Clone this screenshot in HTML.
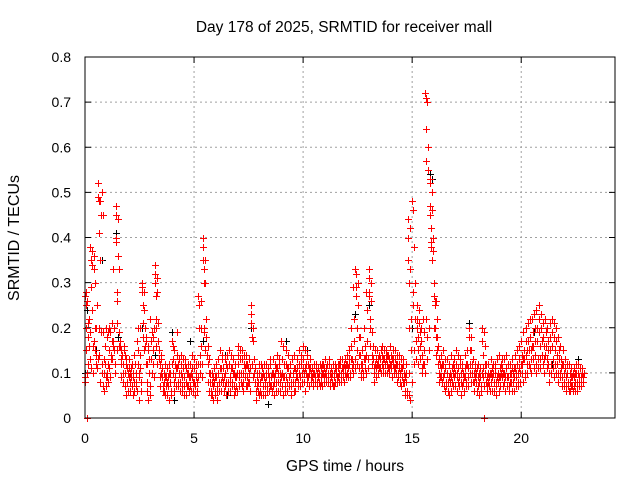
<!DOCTYPE html>
<html><head><meta charset="utf-8"><style>
body{margin:0;background:#fff}
svg{display:block;font-family:"Liberation Sans",sans-serif}
</style></head><body>
<svg id="chart" width="640" height="480" viewBox="0 0 640 480">
<rect width="640" height="480" fill="#fff"/>
<text x="344" y="32" font-size="15.5" text-anchor="middle" fill="#000">Day 178 of 2025, SRMTID for receiver mall</text>
<text x="345" y="471" font-size="15.5" text-anchor="middle" fill="#000">GPS time / hours</text>
<text transform="translate(19,238) rotate(-90)" font-size="16" text-anchor="middle" fill="#000">SRMTID / TECUs</text>
<g id="grid"></g>
<g id="ticks"></g>
<g id="blackPts"></g>
<g id="redPts"></g>
<rect x="85" y="57" width="530" height="361" fill="none" stroke="#000" stroke-width="1"/>
</svg>
<script>
const xTicks=[0,5,10,15,20];
const yTicks=[0,0.1,0.2,0.3,0.4,0.5,0.6,0.7,0.8];
const yTickLabels=["0","0.1","0.2","0.3","0.4","0.5","0.6","0.7","0.8"];
const redHours=[0.0,0.2,0.4,0.6,0.8,1.0,1.2,1.4,1.6,1.8,2.0,2.2,2.4,2.6,2.8,3.0,3.2,3.4,3.6,3.8,4.0,4.2,4.4,4.6,4.8,5.0,5.2,5.4,5.6,5.8,6.0,6.2,6.4,6.6,6.8,7.0,7.2,7.4,7.6,7.8,8.0,8.2,8.4,8.6,8.8,9.0,9.2,9.4,9.6,9.8,10.0,10.2,10.4,10.6,10.8,11.0,11.2,11.4,11.6,11.8,12.0,12.2,12.4,12.6,12.8,13.0,13.2,13.4,13.6,13.8,14.0,14.2,14.4,14.6,14.8,15.0,15.2,15.4,15.6,15.8,16.0,16.2,16.4,16.6,16.8,17.0,17.2,17.4,17.6,17.8,18.0,18.2,18.4,18.6,18.8,19.0,19.2,19.4,19.6,19.8,20.0,20.2,20.4,20.6,20.8,21.0,21.2,21.4,21.6,21.8,22.0,22.2,22.4,22.6,22.8];
const redValues=[
[.08,.09,.27,.2,.25,.15,.28,.1,0],[.22,.38,.19,.13,.35,.29,.11],[.33,.36,.17,.2,.15,.3,.12],[.52,.49,.48,.41,.2,.14,.08,.35],[.5,.45,.07,.19,.1,.13,.06],
[.18,.1,.09,.19,.08,.12,.2],[.14,.13,.21,.17,.16,.33],[.47,.45,.4,.39,.28,.26,.21,.15],[.17,.16,.13,.12,.09,.15,.14],[.15,.14,.1,.07,.05,.12],
[.09,.13,.11,.08,.06,.1],[.1,.09,.06,.08,.14,.12],[.17,.2,.15,.12,.09,.04,.1],[.3,.29,.28,.25,.21,.18,.15],[.18,.17,.12,.08,.06,.15,.04],
[.22,.13,.17,.1,.19],[.34,.32,.3,.27,.22,.2,.16,.12],[.15,.12,.09,.07,.14,.1],[.1,.08,.06,.05,.12,.09],[.07,.09,.12,.1,.04,.08],
[.17,.16,.13,.1,.06,.08],[.19,.14,.11,.08,.07,.12],[.12,.1,.07,.06,.09,.13],[.13,.11,.08,.05,.07,.1],[.12,.09,.07,.06,.1,.14],
[.11,.08,.07,.05,.09,.12],[.27,.25,.2,.14,.12,.1],[.4,.38,.35,.33,.3,.2,.19,.15],[.14,.16,.12,.08,.06,.1],[.1,.08,.05,.04,.07,.09],
[.12,.09,.07,.06,.04,.1],[.15,.11,.08,.06,.09,.13],[.13,.1,.07,.05,.08,.12],[.15,.12,.09,.06,.08,.11],[.13,.1,.07,.05,.09,.06],
[.16,.14,.12,.09,.07,.1],[.15,.13,.1,.08,.06,.12],[.14,.12,.09,.07,.08,.11],[.25,.23,.21,.18,.12,.09],[.11,.08,.06,.04,.09,.07],
[.1,.08,.06,.05,.09,.12],[.12,.09,.07,.05,.08,.1],[.11,.08,.06,.09,.07,.13],[.13,.1,.07,.05,.09,.08],[.14,.11,.08,.06,.1,.12],
[.17,.13,.1,.07,.05,.09],[.15,.12,.09,.06,.08,.11],[.12,.1,.08,.05,.07,.13],[.14,.11,.08,.06,.09,.1],[.15,.12,.1,.07,.09,.13],
[.16,.13,.1,.08,.06,.11],[.14,.12,.09,.07,.1,.11],[.11,.09,.07,.08,.1,.12],[.12,.1,.08,.07,.09,.11],[.11,.09,.08,.1,.12,.07],
[.13,.1,.08,.09,.11,.12],[.12,.1,.08,.07,.09,.11],[.1,.09,.07,.08,.11,.12],[.11,.09,.08,.1,.12,.13],[.13,.11,.09,.1,.08,.12],
[.14,.12,.1,.09,.11,.13],[.2,.16,.13,.11,.1,.12],[.33,.32,.29,.27,.2,.15,.12],[.18,.14,.12,.1,.09,.11],[.2,.16,.13,.11,.1,.14],
[.33,.31,.28,.27,.22,.2,.16],[.16,.13,.11,.1,.08,.12],[.15,.13,.12,.1,.14,.11],[.16,.14,.12,.11,.13,.1],[.15,.13,.12,.1,.14,.11],
[.16,.14,.12,.11,.13,.09],[.15,.13,.11,.1,.12,.08],[.14,.12,.1,.08,.11,.07],[.13,.1,.08,.06,.09,.05],[.44,.4,.35,.3,.2,.1,.05,.04],
[.48,.46,.28,.25,.15,.12],[.25,.22,.2,.18,.15,.12],[.2,.17,.14,.11,.1,.12],[.72,.71,.64,.57,.22,.18,.13],[.53,.52,.47,.45,.42,.39,.38,.35],
[.3,.27,.26,.25,.2,.18,.14],[.16,.13,.1,.08,.12,.09],[.15,.12,.09,.07,.1,.06],[.13,.1,.08,.06,.09,.05],[.14,.11,.08,.07,.1,.12],
[.15,.12,.09,.06,.1,.08],[.13,.1,.08,.05,.07,.11],[.14,.11,.09,.07,.12,.08],[.2,.18,.15,.12,.1,.08],[.13,.1,.08,.06,.09,.11],
[.12,.09,.07,.05,.08,.1],[.2,.17,.14,.11,.09,.07,0],[.12,.09,.07,.06,.1,.08],[.13,.1,.08,.06,.09,.11],[.12,.1,.08,.05,.07,.09],
[.14,.11,.09,.07,.1,.12],[.13,.1,.08,.06,.09,.11],[.12,.09,.07,.06,.08,.1],[.13,.1,.08,.06,.09,.11],[.15,.12,.1,.08,.07,.11],
[.17,.14,.12,.1,.08,.13],[.2,.17,.14,.12,.1,.15],[.22,.18,.15,.13,.1,.16],[.23,.2,.17,.14,.12,.1],[.25,.22,.19,.16,.13,.11],
[.21,.18,.16,.13,.1,.14],[.2,.17,.15,.12,.1,.08],[.22,.19,.16,.13,.11,.09],[.2,.17,.14,.12,.1,.08],[.16,.13,.11,.09,.07,.12],
[.13,.11,.09,.07,.06,.1],[.12,.1,.08,.06,.09,.07],[.11,.09,.07,.06,.08,.1],[.12,.1,.08,.07,.09,.11],[.11,.09,.08,.1]];
const redHours2=[0.1,0.3,0.5,0.7,0.9,1.1,1.3,1.5,1.7,1.9,2.1,2.3,2.5,2.7,2.9,3.1,3.3,3.5,3.7,3.9,4.1,4.3,4.5,4.7,4.9,5.1,5.3,5.5,5.7,5.9,6.1,6.3,6.5,6.7,6.9,7.1,7.3,7.5,7.7,7.9,8.1,8.3,8.5,8.7,8.9,9.1,9.3,9.5,9.7,9.9,10.1,10.3,10.5,10.7,10.9,11.1,11.3,11.5,11.7,11.9,12.1,12.3,12.5,12.7,12.9,13.1,13.3,13.5,13.7,13.9,14.1,14.3,14.5,14.7,14.9,15.1,15.3,15.5,15.7,15.9,16.1,16.3,16.5,16.7,16.9,17.1,17.3,17.5,17.7,17.9,18.1,18.3,18.5,18.7,18.9,19.1,19.3,19.5,19.7,19.9,20.1,20.3,20.5,20.7,20.9,21.1,21.3,21.5,21.7,21.9,22.1,22.3,22.5,22.7];
const redValues2=[
[.26,.18,.12,.21,.16],[.37,.34,.24,.16,.1],[.2,.14,.11,.25,.13],[.48,.45,.19,.12,.1],[.16,.12,.09,.07,.2],
[.15,.11,.09,.19,.13],[.17,.2,.15,.12,.1],[.44,.36,.33,.19,.16],[.14,.12,.1,.08,.16],[.13,.11,.08,.06,.1],
[.11,.09,.07,.12,.05],[.12,.1,.08,.07,.06],[.2,.14,.11,.08,.06],[.28,.24,.2,.16,.12],[.16,.13,.1,.07,.05],
[.18,.15,.12,.09,.2],[.31,.28,.21,.17,.13],[.13,.11,.09,.07,.06],[.09,.07,.05,.11,.08],[.1,.08,.06,.05,.12],
[.15,.12,.09,.07,.11],[.13,.1,.08,.06,.14],[.11,.09,.07,.05,.12],[.12,.1,.07,.06,.09],[.11,.09,.08,.06,.13],
[.1,.08,.06,.09,.12],[.26,.2,.16,.12,.09],[.35,.3,.22,.18,.14],[.13,.1,.08,.06,.05],[.11,.08,.06,.05,.09],
[.13,.1,.08,.06,.11],[.14,.11,.08,.06,.09],[.14,.11,.08,.06,.12],[.14,.11,.08,.07,.1],[.12,.09,.07,.06,.1],
[.15,.13,.1,.08,.07],[.14,.11,.09,.07,.12],[.13,.1,.08,.06,.11],[.2,.17,.13,.1,.08],[.1,.08,.06,.05,.12],
[.11,.09,.07,.05,.1],[.12,.09,.07,.06,.1],[.12,.09,.07,.06,.1],[.12,.1,.08,.06,.11],[.13,.1,.08,.06,.09],
[.16,.12,.09,.07,.06],[.14,.11,.09,.07,.1],[.13,.1,.08,.06,.11],[.13,.11,.09,.07,.08],[.14,.12,.1,.08,.11],
[.15,.12,.1,.08,.09],[.13,.11,.09,.08,.1],[.12,.1,.09,.08,.11],[.11,.1,.08,.07,.12],[.12,.1,.09,.08,.11],
[.12,.1,.09,.08,.13],[.11,.1,.08,.07,.12],[.11,.1,.09,.08,.12],[.12,.1,.09,.08,.11],[.13,.11,.1,.09,.12],
[.15,.12,.1,.09,.13],[.29,.22,.17,.13,.11],[.3,.25,.18,.14,.11],[.15,.12,.1,.09,.13],[.28,.24,.17,.13,.11],
[.3,.26,.19,.14,.12],[.15,.13,.11,.09,.12],[.14,.13,.11,.1,.15],[.15,.13,.12,.1,.14],[.14,.13,.11,.1,.12],
[.15,.13,.12,.1,.11],[.14,.12,.1,.09,.11],[.13,.11,.09,.08,.12],[.12,.1,.08,.06,.05],[.42,.33,.22,.15,.08],
[.38,.3,.22,.17,.13],[.24,.21,.19,.16,.13],[.22,.19,.15,.12,.1],[.7,.6,.55,.2,.15],[.5,.46,.4,.37,.2],
[.26,.22,.18,.15,.12],[.14,.11,.09,.08,.12],[.13,.11,.08,.07,.1],[.12,.1,.08,.06,.09],[.13,.11,.09,.07,.1],
[.14,.11,.09,.07,.12],[.12,.1,.08,.06,.09],[.15,.12,.09,.07,.11],[.18,.15,.12,.1,.08],[.12,.1,.08,.06,.11],
[.11,.09,.07,.06,.1],[.19,.16,.12,.1,.08],[.12,.09,.07,.06,.1],[.12,.1,.08,.06,.11],[.13,.1,.08,.06,.09],
[.13,.11,.09,.07,.1],[.14,.11,.09,.07,.12],[.12,.1,.08,.06,.11],[.14,.11,.09,.07,.1],[.16,.13,.1,.08,.12],
[.19,.15,.13,.1,.09],[.21,.17,.15,.12,.11],[.22,.19,.16,.13,.11],[.24,.2,.17,.13,.11],[.23,.2,.17,.14,.12],
[.22,.19,.16,.13,.11],[.21,.18,.15,.12,.1],[.21,.18,.15,.12,.1],[.18,.15,.13,.1,.09],[.15,.12,.1,.08,.07],
[.12,.1,.08,.07,.06],[.11,.09,.07,.06,.1],[.12,.1,.08,.07,.06],[.11,.09,.08,.07,.1]];
const blackHours=[0.0,0.4,0.8,1.4,2.6,3.2,4.0,4.8,5.4,6.4,7.6,8.4,9.2,10.2,12.4,13.0,15.0,15.8,16.0,17.6,19.0,20.6,21.4,22.6];
const blackValues=[[.1,.24],[.33,.15],[.35,.12],[.41,.18],[.2],[.14],[.19,.04],[.17],[.17],[.14,.05],[.2],[.03],[.17],[.15],[.23],[.25],[.2],[.54,.53],[.2],[.21],[.06],[.19],[.12],[.13]];

const X0=85,X1=615,Y0=418,Y1=57,XMAX=24.3,YMAX=0.8;
const xs=v=>X0+(v/XMAX)*(X1-X0);
const ys=v=>Y0-(v/YMAX)*(Y0-Y1);
const NS="http://www.w3.org/2000/svg";
function mk(tag,attrs,parent){const e=document.createElementNS(NS,tag);for(const k in attrs)e.setAttribute(k,attrs[k]);parent.appendChild(e);return e;}
const grid=document.getElementById('grid'),ticks=document.getElementById('ticks');
xTicks.forEach((t,i)=>{
  const x=xs(t);
  if(i>0){const g=mk('line',{x1:x,y1:Y0,x2:x,y2:Y1,stroke:'#a0a0a0','stroke-dasharray':'2,3'},grid);
  
  }
  mk('line',{x1:x,y1:Y0,x2:x,y2:Y0-6,stroke:'#000'},ticks);
  mk('line',{x1:x,y1:Y1,x2:x,y2:Y1+6,stroke:'#000'},ticks);
  const l=mk('text',{x:x,y:443,'font-size':14,'text-anchor':'middle'},ticks);l.textContent=String(t);
  
  
});
yTicks.forEach((t,i)=>{
  const y=ys(t);
  if(i>0&&i<yTicks.length-1){const g=mk('line',{x1:X0,y1:y,x2:X1,y2:y,stroke:'#a0a0a0','stroke-dasharray':'2,3'},grid);
  
  }
  mk('line',{x1:X0,y1:y,x2:X0+6,y2:y,stroke:'#000'},ticks);
  mk('line',{x1:X1,y1:y,x2:X1-6,y2:y,stroke:'#000'},ticks);
  const l=mk('text',{x:71,y:y+5,'font-size':14,'text-anchor':'end'},ticks);l.textContent=yTickLabels[i];
  
  
});
function plot(hours,vals,color,gid,name,span){
  const g=document.getElementById(gid);let d='';
  hours.forEach((h,i)=>{const row=vals[i];row.forEach((v,j)=>{
    const x=Math.round(xs(h+span*j/row.length))+0.5,y=Math.round(ys(v))+0.5;
    d+=`M${x-3.5},${y}H${x+3.5}M${x},${y-3.5}V${y+3.5}`;});});
  const p=mk('path',{d:d,stroke:color,'stroke-width':1,fill:'none'},g);
  
  
}
plot(blackHours,blackValues,'#000','blackPts','black-points',0.2);
plot(redHours,redValues,'#ff0000','redPts','red-points',0.1);
plot(redHours2,redValues2,'#ff0000','redPts','red-points-2',0.1);
</script>
</body></html>
